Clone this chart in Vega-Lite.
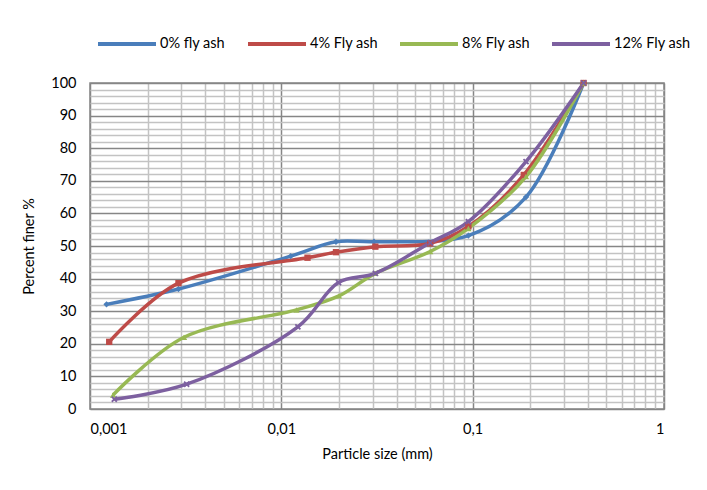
{
  "$schema": "https://vega.github.io/schema/vega-lite/v6.json",
  "width": 574,
  "height": 326,
  "autosize": "none",
  "padding": {"left": 90, "top": 83, "right": 43, "bottom": 81},
  "background": "white",
  "config": {
    "font": "Lato",
    "view": {"stroke": "#868686", "strokeWidth": 1.5},
    "axis": {"labelFont": "Lato", "titleFont": "Lato", "labelFontSize": 14.5, "titleFontSize": 14.5, "titleFontWeight": "normal", "labelColor": "#000", "titleColor": "#000", "domain": false, "ticks": false}
  },
  "data": {
    "values": [
      {"series": "0% fly ash", "x": 0.00122, "y": 32.1},
      {"series": "0% fly ash", "x": 0.0029, "y": 36.8},
      {"series": "0% fly ash", "x": 0.0112, "y": 46.9},
      {"series": "0% fly ash", "x": 0.0193, "y": 51.3},
      {"series": "0% fly ash", "x": 0.0305, "y": 51.3},
      {"series": "0% fly ash", "x": 0.095, "y": 53.2},
      {"series": "0% fly ash", "x": 0.19, "y": 65},
      {"series": "0% fly ash", "x": 0.38, "y": 100},
      {"series": "4% Fly ash", "x": 0.00126, "y": 20.6},
      {"series": "4% Fly ash", "x": 0.0029, "y": 38.6},
      {"series": "4% Fly ash", "x": 0.0137, "y": 46.4},
      {"series": "4% Fly ash", "x": 0.0193, "y": 48.1},
      {"series": "4% Fly ash", "x": 0.031, "y": 49.8},
      {"series": "4% Fly ash", "x": 0.06, "y": 50.8},
      {"series": "4% Fly ash", "x": 0.095, "y": 56},
      {"series": "4% Fly ash", "x": 0.185, "y": 71.8},
      {"series": "4% Fly ash", "x": 0.38, "y": 100},
      {"series": "8% Fly ash", "x": 0.00132, "y": 4.3},
      {"series": "8% Fly ash", "x": 0.0031, "y": 22},
      {"series": "8% Fly ash", "x": 0.012, "y": 30.4},
      {"series": "8% Fly ash", "x": 0.02, "y": 34.7},
      {"series": "8% Fly ash", "x": 0.031, "y": 41.6},
      {"series": "8% Fly ash", "x": 0.06, "y": 48.3},
      {"series": "8% Fly ash", "x": 0.095, "y": 55.4},
      {"series": "8% Fly ash", "x": 0.19, "y": 71.3},
      {"series": "8% Fly ash", "x": 0.38, "y": 100},
      {"series": "12% Fly ash", "x": 0.00134, "y": 3.0},
      {"series": "12% Fly ash", "x": 0.0032, "y": 7.6},
      {"series": "12% Fly ash", "x": 0.0122, "y": 25.2},
      {"series": "12% Fly ash", "x": 0.0199, "y": 38.8},
      {"series": "12% Fly ash", "x": 0.031, "y": 41.6},
      {"series": "12% Fly ash", "x": 0.06, "y": 51},
      {"series": "12% Fly ash", "x": 0.095, "y": 57.5},
      {"series": "12% Fly ash", "x": 0.19, "y": 75.9},
      {"series": "12% Fly ash", "x": 0.38, "y": 100}
    ]
  },
  "encoding": {
    "x": {
      "field": "x", "type": "quantitative",
      "scale": {"type": "log", "domain": [0.001, 1], "nice": false},
      "axis": {
        "title": "Particle size (mm)",
        "values": [0.001,0.002,0.003,0.004,0.005,0.006,0.007,0.008,0.009,0.01,0.02,0.03,0.04,0.05,0.06,0.07,0.08,0.09,0.1,0.2,0.3,0.4,0.5,0.6,0.7,0.8,0.9,1],
        "labelExpr": "datum.value == 0.001 ? '0,001' : datum.value == 0.01 ? '0,01' : datum.value == 0.1 ? '0,1' : datum.value == 1 ? '1' : ''",
        "labelPadding": 13,
        "titlePadding": 12,
        "gridOpacity": 1,
        "gridWidth": 1.5,
        "gridColor": {"condition": {"test": "datum.value == 0.001 || datum.value == 0.01 || datum.value == 0.1 || datum.value == 1", "value": "#868686"}, "value": "#c3c3c3"}
      }
    },
    "y": {
      "field": "y", "type": "quantitative",
      "scale": {"domain": [0, 100], "nice": false},
      "axis": {
        "title": "Percent  finer %",
        "values": [0,2,4,6,8,10,12,14,16,18,20,22,24,26,28,30,32,34,36,38,40,42,44,46,48,50,52,54,56,58,60,62,64,66,68,70,72,74,76,78,80,82,84,86,88,90,92,94,96,98,100],
        "labelExpr": "datum.value % 10 == 0 ? datum.label : ''",
        "labelPadding": 14,
        "titlePadding": 14,
        "gridOpacity": 1,
        "gridWidth": 1.5,
        "gridColor": {"condition": {"test": "datum.value % 10 == 0", "value": "#868686"}, "value": "#c3c3c3"}
      }
    }
  },
  "layer": [
    {
      "mark": {"type": "line", "interpolate": "catmull-rom", "strokeWidth": 3.5},
      "encoding": {
        "color": {
          "field": "series", "type": "nominal",
          "sort": ["0% fly ash", "4% Fly ash", "8% Fly ash", "12% Fly ash"],
          "scale": {"domain": ["0% fly ash", "4% Fly ash", "8% Fly ash", "12% Fly ash"], "range": ["#4A7EBB", "#BE4B48", "#98B954", "#7D60A0"]},
          "legend": {
            "title": null,
            "orient": "none",
            "legendX": 6,
            "legendY": -70,
            "direction": "horizontal",
            "symbolType": "stroke",
            "symbolSize": 3364,
            "symbolStrokeWidth": 4,
            "labelFont": "Lato",
            "labelFontSize": 14.5,
            "labelColor": "#000",
            "labelOffset": 2,
            "columnPadding": 14
          }
        }
      }
    },
    {
      "transform": [{"filter": {"field": "series", "equal": "0% fly ash"}}],
      "mark": {"type": "point", "filled": true, "opacity": 1, "size": 40, "shape": "diamond", "color": "#4A7EBB"}
    },
    {
      "transform": [{"filter": {"field": "series", "equal": "4% Fly ash"}}],
      "mark": {"type": "point", "filled": true, "opacity": 1, "size": 40, "shape": "square", "color": "#BE4B48"}
    },
    {
      "transform": [{"filter": {"field": "series", "equal": "8% Fly ash"}}],
      "mark": {"type": "point", "filled": true, "opacity": 1, "size": 40, "shape": "triangle-up", "color": "#98B954"}
    },
    {
      "transform": [{"filter": {"field": "series", "equal": "12% Fly ash"}}],
      "mark": {"type": "point", "filled": true, "opacity": 1, "size": 40, "shape": "M-1,-0.6L-0.6,-1L0,-0.4L0.6,-1L1,-0.6L0.4,0L1,0.6L0.6,1L0,0.4L-0.6,1L-1,0.6L-0.4,0Z", "color": "#7D60A0"}
    }
  ]
}
